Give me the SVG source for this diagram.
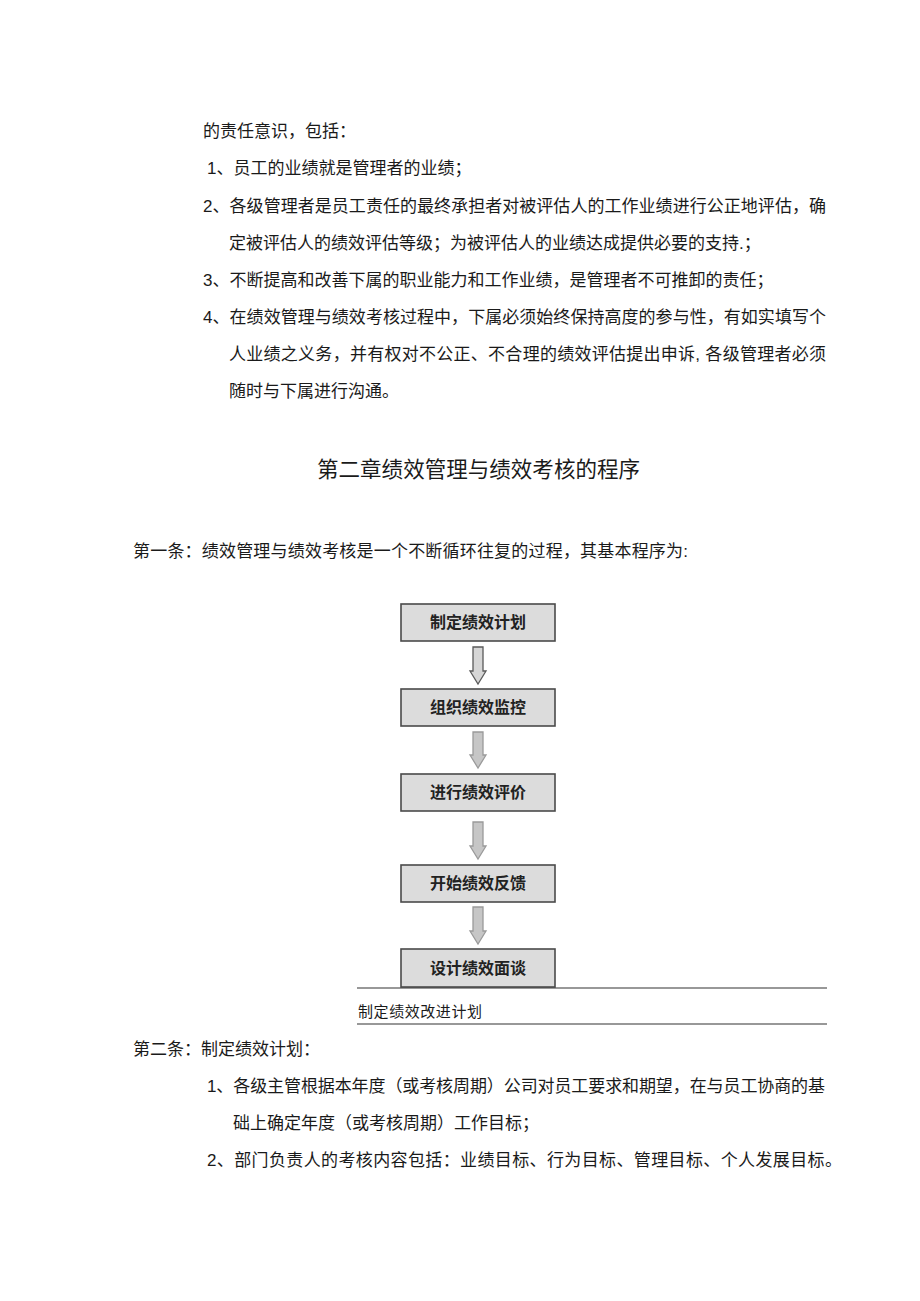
<svg xmlns="http://www.w3.org/2000/svg" width="920" height="1301" viewBox="0 0 920 1301">
<style>
.t{font-family:"Liberation Sans","Noto Sans CJK SC",sans-serif;font-size:17px;fill:#1a1a1a}
.h{font-family:"Noto Sans CJK SC",sans-serif;font-size:21.5px;fill:#1a1a1a}
.box{fill:#dcdcdc;stroke:#4a4a4a;stroke-width:1.6}
.bl{font-family:"Noto Sans CJK SC",sans-serif;font-size:16px;font-weight:bold;fill:#222;text-anchor:middle}
.a1{fill:#d6d6d6;stroke:#5a5a5a;stroke-width:1.3}
.a2{fill:#c6c6c6;stroke:#9a9a9a;stroke-width:1.3}
.rule{stroke:#333;stroke-width:1.2}
.sm{font-family:"Noto Sans CJK SC",sans-serif;font-size:15px;fill:#1a1a1a}
</style>
<rect width="920" height="1301" fill="#ffffff"/>
<g id="body-top">
<text class="t" x="203" y="137">的责任意识，包括：</text>
<text class="t" x="207" y="174">1、员工的业绩就是管理者的业绩；</text>
<text class="t" x="203" y="212" textLength="623" lengthAdjust="spacing">2、各级管理者是员工责任的最终承担者对被评估人的工作业绩进行公正地评估，确</text>
<text class="t" x="229" y="249">定被评估人的绩效评估等级；为被评估人的业绩达成提供必要的支持.；</text>
<text class="t" x="203" y="286">3、不断提高和改善下属的职业能力和工作业绩，是管理者不可推卸的责任；</text>
<text class="t" x="203" y="323" textLength="623" lengthAdjust="spacing">4、在绩效管理与绩效考核过程中，下属必须始终保持高度的参与性，有如实填写个</text>
<text class="t" x="229" y="360" textLength="597" lengthAdjust="spacing">人业绩之义务，并有权对不公正、不合理的绩效评估提出申诉, 各级管理者必须</text>
<text class="t" x="229" y="397">随时与下属进行沟通。</text>
</g>
<g id="heading">
<text class="h" x="317" y="477" textLength="323" lengthAdjust="spacing">第二章绩效管理与绩效考核的程序</text>
<text class="t" x="133" y="557" textLength="555" lengthAdjust="spacing">第一条：绩效管理与绩效考核是一个不断循环往复的过程，其基本程序为:</text>
</g>
<g id="connectors">
<polygon class="a1" points="473,647 483,647 483,671 486,671 478,684 470,671 473,671"/>
<polygon class="a2" points="473,732 483,732 483,755 486,755 478,768 470,755 473,755"/>
<polygon class="a2" points="473,822 483,822 483,846 486,846 478,859 470,846 473,846"/>
<polygon class="a2" points="473,907 483,907 483,931 486,931 478,944 470,931 473,931"/>
</g>
<g id="node1"><rect class="box" x="401" y="604" width="154" height="37"/><text class="bl" x="478" y="628">制定绩效计划</text></g>
<g id="node2"><rect class="box" x="401" y="689" width="154" height="37"/><text class="bl" x="478" y="713">组织绩效监控</text></g>
<g id="node3"><rect class="box" x="401" y="774" width="154" height="37"/><text class="bl" x="478" y="798">进行绩效评价</text></g>
<g id="node4"><rect class="box" x="401" y="865" width="154" height="37"/><text class="bl" x="478" y="889">开始绩效反馈</text></g>
<g id="node5"><rect class="box" x="401" y="949" width="154" height="38"/><text class="bl" x="478" y="974">设计绩效面谈</text></g>
<g id="table-row">
<line class="rule" x1="357" y1="988" x2="827" y2="988"/>
<text class="sm" x="358" y="1017" textLength="124" lengthAdjust="spacing">制定绩效改进计划</text>
<line class="rule" x1="357" y1="1024" x2="827" y2="1024"/>
</g>
<g id="body-bottom">
<text class="t" x="133" y="1055">第二条：制定绩效计划：</text>
<text class="t" x="207" y="1092" textLength="618" lengthAdjust="spacing">1、各级主管根据本年度（或考核周期）公司对员工要求和期望，在与员工协商的基</text>
<text class="t" x="233" y="1129">础上确定年度（或考核周期）工作目标；</text>
<text class="t" x="207" y="1166" textLength="635" lengthAdjust="spacing">2、部门负责人的考核内容包括：业绩目标、行为目标、管理目标、个人发展目标。</text>
</g>
</svg>
